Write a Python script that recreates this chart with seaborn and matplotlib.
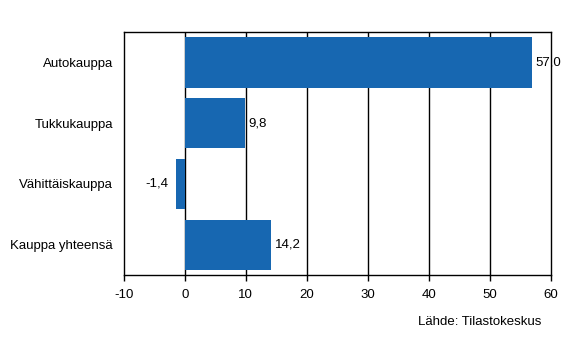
import matplotlib
matplotlib.use('Agg')
import matplotlib.pyplot as plt
import pandas as pd
import seaborn as sns

# Data
categories = ['Autokauppa', 'Tukkukauppa', 'Vähittäiskauppa', 'Kauppa yhteensä']
values = [57.0, 9.8, -1.4, 14.2]
x_ticks = [-10, 0, 10, 20, 30, 40, 50, 60]
source_text = 'Lähde: Tilastokeskus'

df = pd.DataFrame({'category': categories, 'value': values})

sns.set_style('white')
plt.rcParams['font.family'] = ['Liberation Sans', 'DejaVu Sans']
plt.rcParams['font.size'] = 9.5
plt.rcParams['text.color'] = 'black'
plt.rcParams['xtick.color'] = 'black'
plt.rcParams['ytick.color'] = 'black'

fig = plt.figure(figsize=(5.66, 3.61), dpi=100)
ax = fig.add_axes([0.219, 0.238, 0.754, 0.673])

sns.barplot(data=df, x='value', y='category', orient='h', color='#1767b1',
            saturation=1, width=0.83, linewidth=0, ax=ax, zorder=3)

ax.set_xlim(-10, 60)
ax.set_xticks(x_ticks)
ax.set_xticklabels([str(t) for t in x_ticks])
ax.set_xlabel('')
ax.set_ylabel('')

# vertical gridlines
for t in x_ticks[1:-1]:
    ax.axvline(t, color='black', linewidth=1, zorder=1)

for side in ['left', 'top', 'right', 'bottom']:
    ax.spines[side].set_visible(True)
    ax.spines[side].set_color('black')
    ax.spines[side].set_linewidth(1)

ax.tick_params(axis='x', which='both', bottom=True, length=4, width=1,
               color='black', labelcolor='black', pad=6, labelsize=9.5)
ax.tick_params(axis='y', which='both', left=False, length=0, pad=8,
               labelcolor='black', labelsize=9.5)

# value labels, decimal comma
for i, v in enumerate(values):
    label = f'{v:.1f}'.replace('.', ',')
    if v >= 0:
        ax.annotate(label, (v, i), xytext=(2.5, 0), textcoords='offset points',
                    ha='left', va='center', fontsize=9.5, color='black')
    else:
        ax.annotate(label, (v, i), xytext=(-6, 0), textcoords='offset points',
                    ha='right', va='center', fontsize=9.5, color='black')

fig.text(541 / 566, 1 - 322 / 361, source_text, ha='right', va='center',
         fontsize=9.5, color='black')

fig.savefig('out.png', dpi=100)
